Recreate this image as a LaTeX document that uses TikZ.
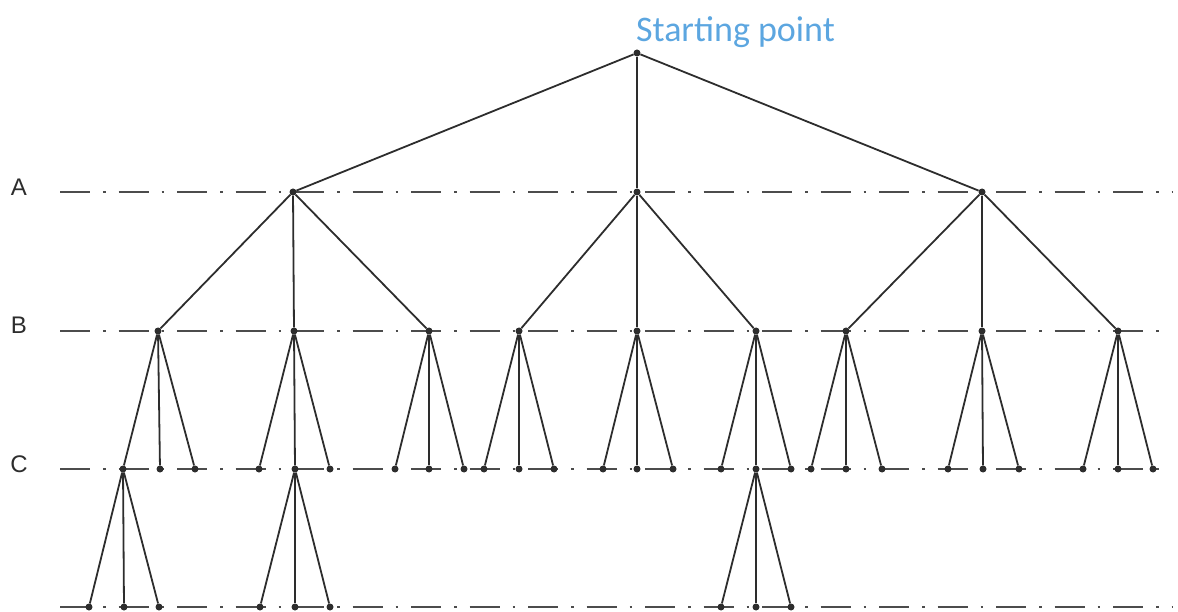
\documentclass[tikz,border=0pt]{standalone}
\usepackage{fontspec}
\setmainfont{Liberation Sans}
\newfontfamily\startfont{Carlito}
\definecolor{startblue}{RGB}{92,166,224}
\definecolor{ink}{RGB}{45,45,45}
\begin{document}
\begin{tikzpicture}[x=1pt,y=-1pt,
  dot/.style={circle,fill=ink,inner sep=0pt,minimum size=7pt},
  edge/.style={draw=ink,line width=1.8pt},
  levelline/.style={draw=ink!85,line width=1.8pt,dash pattern=on 30pt off 13pt on 2.5pt off 13pt},
  lab/.style={font=\fontsize{24}{28}\selectfont,text=ink,anchor=base,inner sep=0pt}]
\useasboundingbox (0,0) rectangle (1178,612);

% level lines
\foreach \n/\y/\e in {A/192/1172,B/331/1170,C/469/1170,D/607/1172}{
  \coordinate (L\n s) at (60,\y);
  \coordinate (L\n e) at (\e,\y);
  \draw[levelline] (L\n s) -- (L\n e);
}

% labels
\node[lab] (labA) at (19,196) {A};
\node[lab] (labB) at (19,334) {B};
\node[lab] (labC) at (19,472) {C};

% root
\node[dot] (r) at (637,53) {};
\node[font=\startfont\fontsize{36}{40}\selectfont,text=startblue,anchor=base,inner sep=0pt] (start) at (735.5,42) {Starting point};

% level A
\foreach \i/\x in {1/293,2/637,3/982}{
  \node[dot] (a\i) at (\x,192) {};
  \draw[edge] (r) -- (a\i);
}

% level B
\foreach \i/\x/\p in {1/158/1,2/294/1,3/429/1,4/519/2,5/637/2,6/756/2,7/846/3,8/982/3,9/1118/3}{
  \node[dot] (b\i) at (\x,331) {};
  \draw[edge] (a\p) -- (b\i);
}

% level C
\foreach \i/\l/\m/\r in {1/123/160/195,2/259/295/330,3/395/429/464,4/484/519/554,5/603/637/673,6/721/756/791,7/811/846/882,8/948/983/1019,9/1083/1118/1153}{
  \node[dot] (c\i l) at (\l,469) {};
  \node[dot] (c\i m) at (\m,469) {};
  \node[dot] (c\i r) at (\r,469) {};
  \draw[edge] (b\i) -- (c\i l);
  \draw[edge] (b\i) -- (c\i m);
  \draw[edge] (b\i) -- (c\i r);
}

% level D
\foreach \i/\p/\l/\m/\r in {1/c1l/89/124/159,2/c2m/260/295/330,3/c6m/721/756/791}{
  \node[dot] (d\i l) at (\l,607) {};
  \node[dot] (d\i m) at (\m,607) {};
  \node[dot] (d\i r) at (\r,607) {};
  \draw[edge] (\p) -- (d\i l);
  \draw[edge] (\p) -- (d\i m);
  \draw[edge] (\p) -- (d\i r);
}
\end{tikzpicture}
\end{document}
